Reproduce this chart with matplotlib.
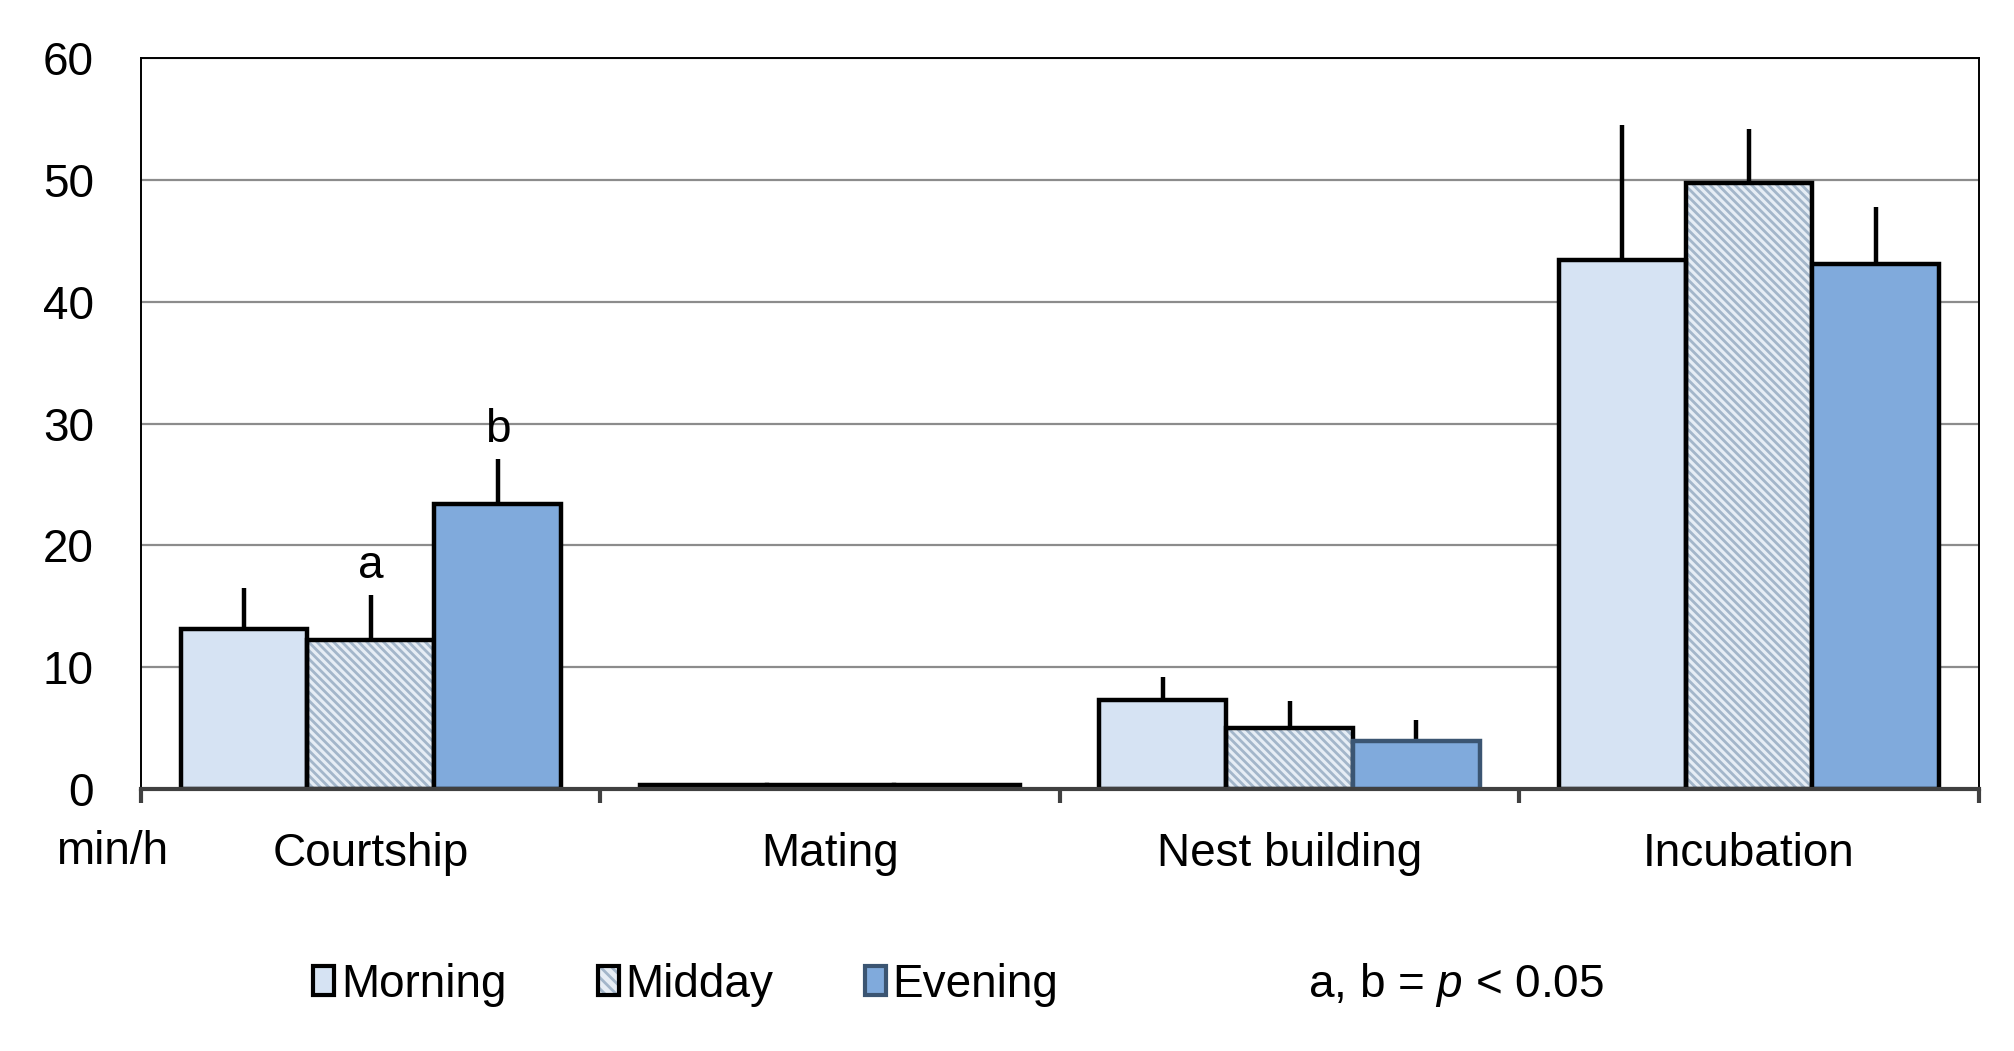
import numpy as np
from matplotlib import pyplot as plt
from matplotlib.patches import Patch
from matplotlib.legend_handler import HandlerTuple

plt.rcParams['font.family'] = ['Liberation Sans', 'DejaVu Sans']
plt.rcParams['mathtext.fontset'] = 'custom'
plt.rcParams['mathtext.rm'] = 'Liberation Sans'
plt.rcParams['mathtext.it'] = 'Liberation Sans:italic'
plt.rcParams['hatch.linewidth'] = 2.0

# data (min/h, mean and upper error)
categories = ['Courtship', 'Mating', 'Nest building', 'Incubation']
series = ['Morning', 'Midday', 'Evening']
morning = [13.1, 0.3, 7.3, 43.4]
midday = [12.2, 0.3, 5.0, 49.7]
evening = [23.4, 0.3, 3.9, 43.1]
morning_err = [3.4, 0.0, 1.9, 11.1]
midday_err = [3.7, 0.0, 2.2, 4.5]
evening_err = [3.7, 0.0, 1.8, 4.7]
sig_letters = {(0, 1): 'a', (0, 2): 'b'}
y_ticks = [0, 10, 20, 30, 40, 50, 60]

c_morning = '#d6e3f3'
c_midday_bg = '#e6edf5'
c_hatch = '#a3b6ca'
c_evening = '#80aadc'
edge_evening = ['black', 'black', '#3b5572', 'black']

fs = 33

fig = plt.figure(figsize=(20.15, 10.51), dpi=100)
ax = fig.add_axes([0.070, 0.2493, 0.912, 0.6955])

x = np.arange(len(categories))
w = 0.276
vals = [morning, midday, evening]
errs = [morning_err, midday_err, evening_err]

for i, (v, e) in enumerate(zip(vals, errs)):
    pos = x + (i - 1) * w
    if i == 1:
        # hatch layer, then the outline on top
        ax.bar(pos, v, w, color=c_midday_bg, edgecolor=c_hatch, hatch='\\\\\\\\',
               linewidth=0, zorder=2)
        ax.bar(pos, v, w, fill=False, edgecolor='black', linewidth=3.2, zorder=3)
    elif i == 0:
        ax.bar(pos, v, w, color=c_morning, edgecolor='black', linewidth=3.2, zorder=3)
    else:
        ax.bar(pos, v, w, color=c_evening, edgecolor=edge_evening, linewidth=3.2, zorder=3)
    has_err = np.array(e) > 0
    ax.errorbar(pos[has_err], np.array(v)[has_err],
                yerr=[np.zeros(has_err.sum()), np.array(e)[has_err]],
                fmt='none', ecolor='black', elinewidth=3.2, capsize=0, zorder=2.5)

for (ci, si), letter in sig_letters.items():
    top = vals[si][ci] + errs[si][ci]
    ax.text(x[ci] + (si - 1) * w, top + 0.6, letter, ha='center', va='bottom',
            fontsize=fs)

ax.set_xlim(-0.5, len(categories) - 0.5)
ax.set_ylim(0, 60)
ax.set_yticks(y_ticks)
ax.yaxis.grid(True, color='#8c8c8c', linewidth=1.6)
ax.set_axisbelow(True)
ax.tick_params(axis='y', length=0, labelsize=fs, pad=34)

ax.set_xticks(np.arange(-0.5, len(categories), 1.0))
ax.set_xticklabels([])
ax.set_xticks(x, minor=True)
ax.set_xticklabels(categories, minor=True)
ax.tick_params(axis='x', which='major', length=10, width=3, color='#404040')
ax.tick_params(axis='x', which='minor', length=0, labelsize=fs, pad=31)

for side in ['left', 'top', 'right']:
    ax.spines[side].set_color('black')
    ax.spines[side].set_linewidth(1.4)
ax.spines['bottom'].set_color('#404040')
ax.spines['bottom'].set_linewidth(3)
ax.spines['bottom'].set_zorder(4)

ax.text(-0.016, -0.0865, 'min/h', transform=ax.transAxes, ha='center', va='center',
        fontsize=fs)

h_morning = Patch(facecolor=c_morning, edgecolor='black', linewidth=3)
h_midday = (Patch(facecolor=c_midday_bg, edgecolor=c_hatch, hatch='\\\\\\', linewidth=0),
            Patch(fill=False, edgecolor='black', linewidth=3))
h_evening = Patch(facecolor=c_evening, edgecolor='#3b5572', linewidth=3)
fig.legend([h_morning, h_midday, h_evening], series, loc='center left',
           bbox_to_anchor=(0.135, 0.063), ncol=3, frameon=False, fontsize=fs,
           handlelength=0.45, handleheight=0.6, handletextpad=0.15, columnspacing=2.0,
           handler_map={tuple: HandlerTuple(ndivide=1, pad=0)})
fig.text(0.649, 0.063, r'a, b = $\mathit{p}$ < 0.05', ha='left', va='center', fontsize=fs)

plt.savefig('out.png', dpi=100)
